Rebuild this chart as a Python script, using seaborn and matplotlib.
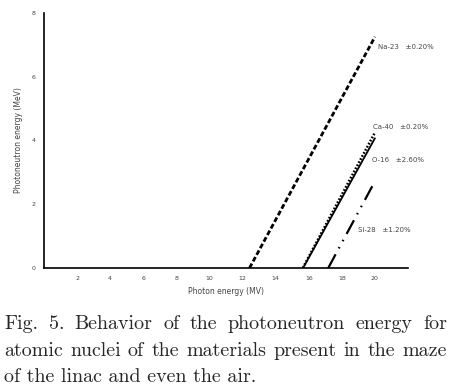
import numpy as np
import pandas as pd
import matplotlib
matplotlib.use("Agg")
import matplotlib.pyplot as plt
import seaborn as sns

# Data
nuclei = ["Na-23", "Ca-40", "O-16", "Si-28"]
uncert = ["±0.20%", "±0.20%", "±2.60%", "±1.20%"]
photon_start = [12.42, 15.64, 15.66, 17.18]
photon_end = [20.0, 20.0, 20.0, 20.0]
neutron_start = [0.0, 0.0, 0.0, 0.0]
neutron_end = [7.25, 4.25, 4.07, 2.72]
x_ticks = [2, 4, 6, 8, 10, 12, 14, 16, 18, 20]
y_ticks = [0, 2, 4, 6, 8]
caption_lines = ["Fig. 5. Behavior of the photoneutron energy for",
                 "atomic nuclei of the materials present in the maze",
                 "of the linac and even the air."]

rows = []
for n, xs, xe, ys, ye in zip(nuclei, photon_start, photon_end, neutron_start, neutron_end):
    rows.append({"nucleus": n, "photon": xs, "neutron": ys})
    rows.append({"nucleus": n, "photon": xe, "neutron": ye})
df = pd.DataFrame(rows)

sns.set_style("white")
plt.rcParams["font.family"] = ["DejaVu Sans"]

fig = plt.figure(figsize=(4.51, 3.90), dpi=100)
ax = fig.add_axes([44 / 451, 1 - 268 / 390, (408 - 44) / 451, 255 / 390])

dashes = {"Na-23": (1.8, 0.9), "Ca-40": (0.7, 0.7), "O-16": "",
          "Si-28": (7, 3, 0.7, 3, 0.7, 3)}
widths = {"Na-23": 2.0, "Ca-40": 1.8, "O-16": 1.3, "Si-28": 1.6}
for n in nuclei:
    sub = df[df["nucleus"] == n]
    sns.lineplot(data=sub, x="photon", y="neutron", ax=ax, color="black",
                 linewidth=widths[n], legend=False)
    line = ax.lines[-1]
    if dashes[n]:
        line.set_dashes(dashes[n])

ax.set_xlim(0, 22)
ax.set_ylim(0, 8)
ax.set_xticks(x_ticks)
ax.set_yticks(y_ticks)
ax.tick_params(axis="both", labelsize=4.5, labelcolor="#444444", length=2,
               width=0.8, direction="out", pad=4, color="black")
for s in ["top", "right"]:
    ax.spines[s].set_visible(False)
for s in ["left", "bottom"]:
    ax.spines[s].set_color("black")
    ax.spines[s].set_linewidth(1.2)
ax.set_xlabel("Photon energy (MV)", fontsize=5.5, color="#444444", labelpad=4)
ax.set_ylabel("Photoneutron energy (MeV)", fontsize=5.5, color="#444444", labelpad=6)

label_pos = [(20.2, 6.93), (19.9, 4.42), (19.8, 3.39), (19.0, 1.19)]
for n, u, (lx, ly) in zip(nuclei, uncert, label_pos):
    ax.text(lx, ly, f"{n}   {u}", fontsize=5, color="#444444", va="center", ha="left")

# Caption, justified for the first two lines
fs = 14.4
kw = dict(fontsize=fs, family="cmr10", va="center", ha="left")
W, H = 451, 390
left_px, right_px = 4, 447
ys_px = [324, 351, 377]
fig.canvas.draw()
renderer = fig.canvas.get_renderer()
for i, (txt, ypx) in enumerate(zip(caption_lines, ys_px)):
    if i == len(caption_lines) - 1:
        fig.text(left_px / W, 1 - ypx / H, txt, **kw)
        continue
    words = txt.split(" ")
    objs = [fig.text(0, 1 - ypx / H, w, **kw) for w in words]
    wpx = [o.get_window_extent(renderer).width for o in objs]
    gap = (right_px - left_px - sum(wpx)) / (len(words) - 1)
    x = left_px
    for o, w in zip(objs, wpx):
        o.set_x(x / W)
        x += w + gap

fig.savefig("out.png", dpi=100)
